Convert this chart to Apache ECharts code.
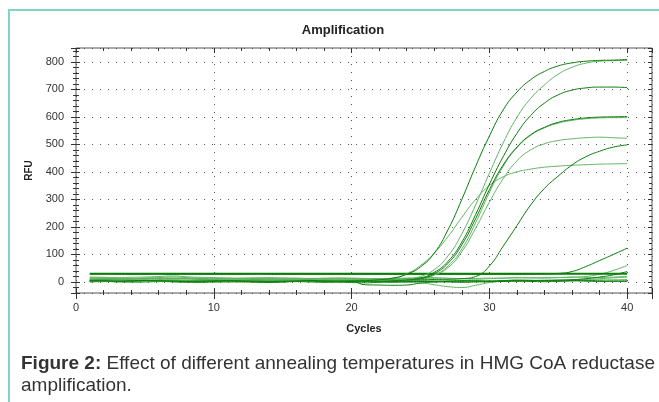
<!DOCTYPE html>
<html>
<head>
<meta charset="utf-8">
<script src="https://cdn.jsdelivr.net/npm/echarts@6/dist/echarts.min.js"></script>
<style>
html,body{margin:0;padding:0;background:#fff;}
#chart{width:659px;height:402px;}
</style>
</head>
<body>
<div id="chart"></div>
<script>
const titleText = 'Amplification';
const xName = 'Cycles';
const yName = 'RFU';
const captionBold = 'Figure 2:';
const captionRest = ' Effect of different annealing temperatures in HMG CoA reductase\namplification.';

const cycles = [1,2,3,4,5,6,7,8,9,10,11,12,13,14,15,16,17,18,19,20,21,22,23,24,25,26,27,28,29,30,31,32,33,34,35,36,37,38,39,40];

const curveA = [3,4,2,3,5,4,3,2,1,2, 3,2,1,0,1,2,3,2,3,4, 5,8,14,28,55,105,190,300,420,530, 625,690,735,765,785,796,802,805,806,808];
const curveB = [2,3,4,3,2,3,4,5,4,3, 2,3,4,5,4,3,2,3,4,5, 5,6,8,11,20,45,95,175,280,395, 505,598,667,716,755,780,795,802,804,805];
const curveC = [5,6,5,4,6,5,4,5,6,5, 4,5,6,5,4,5,6,5,4,5, 6,6,8,10,15,35,75,145,245,355, 455,540,605,650,680,697,705,708,708,706];
const curveD = [1,2,1,0,1,2,1,0,-1,0, 1,2,1,0,1,2,1,0,1,2, 2,3,5,7,12,30,68,135,230,335, 425,490,535,562,580,590,596,599,600,601];
const curveE = [8,9,10,9,8,9,10,11,10,9, 8,9,10,9,8,9,10,9,8,9, 8,9,10,10,12,25,58,120,215,325, 420,488,533,560,577,587,593,596,597,597];
const curveF = [12,13,12,11,12,13,14,13,12,11, 12,13,12,11,12,13,12,11,12,13, 12,12,12,13,15,26,52,110,195,290, 375,440,480,502,514,520,524,526,524,522];
const curveG = [4,5,4,3,4,5,4,3,4,5, 4,3,4,5,4,3,4,5,4,5, 5,6,6,7,8,9,10,12,20,58, 130,205,280,340,385,425,455,475,490,498];
const curveK = [14,15,13,12,14,16,18,16,14,13, 12,13,14,12,11,12,13,12,11,12, 11,12,14,30,60,105,165,235,300,350, 382,400,410,417,421,424,426,428,429,430];
const curveH = [29,29,28,28,28,29,28,28,28,28, 28,28,29,28,28,28,28,28,28,28, 28,28,28,28,28,28,28,28,28,28, 28,28,28,29,31,38,56,78,100,123];
const curveL = [30,30,30,30,30,30,30,30,30,30, 30,30,30,30,30,30,30,30,30,30, 30,30,30,30,30,30,30,30,30,30, 30,30,30,30,30,30,30,30,30,30];
const curveI = [14,13,12,13,14,12,11,12,13,12, 11,10,11,12,11,10,11,12,11,10, 11,12,11,10,11,12,11,12,13,14, 14,15,15,16,16,17,20,28,42,60];
const curveJ = [6,5,6,5,4,5,6,5,4,3, 4,5,4,3,2,3,4,3,2,3, 4,3,2,3,4,3,4,5,4,3, 4,5,4,5,6,8,12,18,26,38];
const curveM = [0,1,2,1,0,1,2,3,2,1, 0,-1,0,1,2,1,0,-1,0,1, 2,1,0,1,2,3,2,1,2,3, 4,5,6,7,8,9,10,12,15,18];
const curveN = [10,9,8,10,12,14,13,11,10,9, 8,7,8,9,8,7,6,5,4,3, 2,1,0,-1,-3,-10,-17,-20,-12,-2, 2,3,4,5,6,6,7,8,8,9];
const curveP = [2,3,1,2,4,3,1,0,1,2, 3,2,0,-1,0,2,3,1,0,-2, -3,-1,0,1,2,1,0,-1,0,1, 2,3,2,1,3,4,3,2,3,4];
const curveQ = [8,9,7,6,4,3,2,3,5,6, 5,4,3,5,6,7,6,5,4,3, -10,-11,-12,-11,-4,0,2,3,4,3, 5,7,6,4,3,5,6,4,3,2];
const curveR = [18,17,16,17,18,20,22,19,17,16, 15,14,15,16,15,14,13,14,15,14, 13,12,13,14,15,16,14,12,10,12, 14,16,15,14,16,18,17,16,18,20];

const xMin = 0, xMax = 41.8, xMajor = 10, xMinor = 2;
const yMin = -40, yMax = 850, yMinor = 20;

const DARK = '#0a7d0a';
const LIGHT = '#62b462';
const seriesDefs = [
  {d: curveR, c: LIGHT}, {d: curveN, c: LIGHT}, {d: curveM, c: LIGHT},
  {d: curveQ, c: DARK}, {d: curveP, c: DARK}, {d: curveJ, c: DARK},
  {d: curveI, c: LIGHT}, {d: curveL, c: DARK, w: 2}, {d: curveH, c: DARK},
  {d: curveK, c: LIGHT}, {d: curveG, c: DARK}, {d: curveF, c: LIGHT},
  {d: curveE, c: LIGHT}, {d: curveD, c: DARK}, {d: curveC, c: DARK},
  {d: curveB, c: LIGHT}, {d: curveA, c: DARK}
];

const FONT = 'Liberation Sans, Arial, sans-serif';

function xAx(opts) {
  return Object.assign({
    type: 'value', min: xMin, max: xMax, position: 'bottom',
    axisLine: {show: false, onZero: false},
    axisTick: {show: true, inside: true, length: 4, lineStyle: {color: '#333'}},
    axisLabel: {show: false},
    splitLine: {show: false}
  }, opts);
}
function yAx(opts) {
  return Object.assign({
    type: 'value', min: yMin, max: yMax, position: 'left',
    axisLine: {show: false, onZero: false},
    axisTick: {show: true, inside: true, length: 4, lineStyle: {color: '#333'}},
    axisLabel: {show: false},
    splitLine: {show: false}
  }, opts);
}

const chart = echarts.init(document.getElementById('chart'), null, {renderer: 'canvas'});
chart.setOption({
  backgroundColor: '#fff',
  animation: false,
  grid: {left: 76, top: 48, right: 7, bottom: 109, show: true, borderColor: '#555', borderWidth: 1, backgroundColor: 'transparent'},
  xAxis: [
    xAx({interval: xMajor,
      axisTick: {show: true, inside: false, length: 6, lineStyle: {color: '#333'}},
      axisLabel: {show: true, margin: 9, fontSize: 11, color: '#333', fontFamily: FONT,
        formatter: v => (v % 10 === 0 ? String(v) : '')},
      splitLine: {show: true, lineStyle: {type: [1, 7], color: '#555', width: 1}},
      name: xName, nameLocation: 'middle', nameGap: 30,
      nameTextStyle: {fontWeight: 'bold', fontSize: 11, color: '#222', fontFamily: FONT}}),
    xAx({interval: xMajor, axisTick: {show: true, inside: true, length: 5, lineStyle: {color: '#333'}}}),
    xAx({interval: xMinor, axisTick: {show: true, inside: true, length: 3, lineStyle: {color: '#333'}}}),
    xAx({interval: xMinor, axisTick: {show: true, inside: false, length: 2, lineStyle: {color: '#333'}}}),
    xAx({interval: xMajor, position: 'top', axisTick: {show: true, inside: true, length: 5, lineStyle: {color: '#333'}}}),
    xAx({interval: xMinor, position: 'top', axisTick: {show: true, inside: true, length: 3, lineStyle: {color: '#333'}}})
  ],
  yAxis: [
    yAx({splitNumber: 9,
      axisTick: {show: true, inside: false, length: 5, lineStyle: {color: '#333'}},
      axisLabel: {show: true, margin: 12, fontSize: 11, color: '#333', fontFamily: FONT,
        formatter: v => (v >= 0 && v % 100 === 0 ? String(v) : '')},
      splitLine: {show: true, lineStyle: {type: [1, 7], color: '#555', width: 1}},
      name: yName, nameLocation: 'middle', nameGap: 41,
      nameTextStyle: {fontWeight: 'bold', fontSize: 10, color: '#222', fontFamily: FONT}}),
    yAx({splitNumber: 9, axisTick: {show: true, inside: true, length: 4, lineStyle: {color: '#333'}}}),
    yAx({interval: yMinor, axisTick: {show: true, inside: true, length: 3, lineStyle: {color: '#333'}}}),
    yAx({interval: yMinor, axisTick: {show: true, inside: false, length: 3, lineStyle: {color: '#333'}}}),
    yAx({interval: yMinor, position: 'right', axisTick: {show: true, inside: true, length: 3, lineStyle: {color: '#333'}}}),
    yAx({splitNumber: 9, position: 'right', axisTick: {show: true, inside: true, length: 4, lineStyle: {color: '#333'}}})
  ],
  series: seriesDefs.map(s => ({
    type: 'line', xAxisIndex: 0, yAxisIndex: 0,
    data: cycles.map((c, i) => [c, s.d[i]]),
    showSymbol: false, symbol: 'none', smooth: 0.5,
    lineStyle: {color: s.c, width: s.w || 1},
    silent: true, clip: true
  })),
  graphic: [
    {type: 'polyline', shape: {points: [[9, 402], [9, 10], [659, 10]]},
      style: {stroke: '#80d4c6', lineWidth: 2, fill: null}, silent: true},
    {type: 'text', x: 343, y: 24, style: {text: titleText, align: 'center', textAlign: 'center',
      font: 'bold 13px ' + FONT, fill: '#222'}},
    {type: 'text', left: 21, top: 353, style: {
      text: '{b|' + captionBold + '}' + captionRest,
      font: '19px ' + FONT, fill: '#333', lineHeight: 22,
      rich: {b: {fontWeight: 'bold', fontSize: 19, fontFamily: FONT, fill: '#333', lineHeight: 22}}
    }}
  ]
});
</script>
</body>
</html>
